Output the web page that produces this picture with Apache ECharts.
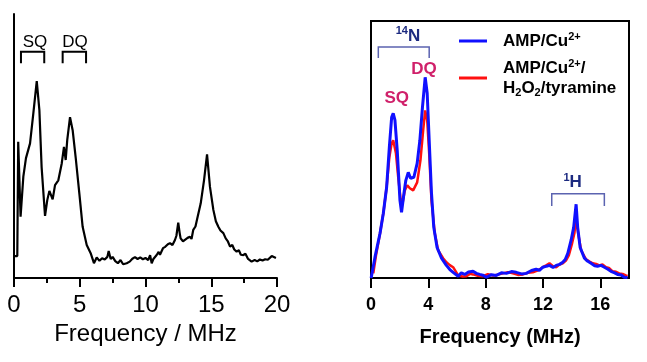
<!DOCTYPE html>
<html>
<head>
<meta charset="utf-8">
<script src="https://cdn.jsdelivr.net/npm/echarts@6/dist/echarts.min.js"></script>
<style>
html,body{margin:0;padding:0;background:#fff;}
#chart{width:647px;height:362px;}
</style>
</head>
<body>
<div id="chart"></div>
<script>
// ---------- Left panel: single spectrum ----------
const leftFreq = [0.06,0.25,0.32,0.38,0.5,0.71,0.91,1.22,1.47,1.73,1.93,2.1,2.36,2.53,2.69,2.94,3.12,3.37,3.63,3.8,3.93,4.05,4.26,4.46,4.71,4.97,5.22,5.53,5.83,6.08,6.29,
  6.5,6.7,6.9,7.1,7.2,7.35,7.5,7.7,7.9,8.1,8.3,8.57,8.8,9.0,9.2,9.4,9.6,9.8,10.0,10.2,10.35,10.47,10.6,10.85,11.0,11.1,11.33,11.5,11.7,11.86,12.05,12.24,12.35,12.49,12.6,12.67,12.85,13.0,13.2,13.38,13.5,13.63,13.8,13.94,14.2,14.45,14.68,14.9,15.16,15.35,15.54,15.7,15.92,16.1,16.25,16.43,16.6,16.75,16.93,17.1,17.25,17.44,17.6,17.8,18.07,18.3,18.5,18.7,18.9,19.1,19.3,19.45,19.6,19.75,19.92];
const leftSignal = [8.3,8.3,51.6,51.6,23.2,38.4,45.4,51,62.4,74.6,63.6,42,23.5,29.5,33,29.8,35.2,37,43.4,49.7,44.7,52.3,60.9,56,44.7,32,19.4,12.5,9.4,5.6,7.8,
  6.5,7.5,7.0,8.0,10.2,7.2,8.0,6.4,5.6,6.8,5.2,5.6,6.2,7.3,7.9,7.2,7.8,7.1,7.6,6.8,8.6,5.6,7.2,8.7,9.9,8.8,11.3,11.8,12.8,13.2,12.5,14.4,16,21,17,15,13.9,14.4,15.2,15.6,14.8,18.2,19.5,22.6,28.3,37,46.8,34.6,25.8,21.5,19.4,18,17,15,14,11.9,12.5,10.8,10,10.5,8.8,8.7,9.2,7.2,6.2,6.8,6.3,7.0,6.6,7.1,6.9,7.6,8.3,8.6,7.6];
const leftTicks = [0,5,10,15,20];

// ---------- Right panel: two spectra ----------
const blueName = 'AMP/Cu2+';
const redName = 'AMP/Cu2+/H2O2/tyramine';
const blueFreq = [0.01,0.28,0.63,0.86,1.09,1.28,1.44,1.55,1.67,1.83,2.02,2.13,2.3,2.43,2.6,2.76,2.99,3.22,3.41,3.59,3.78,3.92,4.06,4.22,4.38,4.61,4.92,5.26,5.5,5.73,6.08,6.3,6.54,6.8,7.12,7.35,7.58,7.8,8.05,8.4,8.74,9.1,9.44,9.8,10.13,10.5,10.83,11.2,11.52,11.75,11.99,12.25,12.45,12.7,12.92,13.15,13.38,13.55,13.73,13.96,14.14,14.31,14.42,14.59,14.89,15.1,15.35,15.6,15.81,16.05,16.28,16.5,16.74,17.0,17.2,17.45,17.67,17.9];
const blueSignal = [0,8.2,17.4,25.2,35.3,50.9,62.5,64.1,61.4,49.7,30.2,25.6,33,38,41.1,38.8,39.2,44.6,53.6,66.4,78.1,71.9,53.6,33,19.7,11.9,7.7,4.9,3.3,2.2,0.7,2.0,1.4,2.3,2.6,1.8,1.4,1.1,0.3,1.3,1.0,2.0,1.8,2.5,2.2,1.6,1.8,2.9,3.4,3.0,4.2,4.6,4.9,4.1,4.9,5.3,6.1,7.2,9.6,14.7,19.7,28.7,19.7,11.9,7.7,6.6,5.7,4.8,4.6,4.9,4.2,3.5,2.6,2.0,1.4,1.2,0.3,0.2];
const redFreq = [0.16,0.35,0.63,0.86,1.09,1.28,1.44,1.55,1.74,1.9,2.06,2.2,2.36,2.53,2.71,2.94,3.22,3.45,3.64,3.78,3.92,4.06,4.22,4.45,4.68,5.03,5.26,5.5,5.73,6.08,6.4,6.66,6.9,7.12,7.45,7.81,8.15,8.51,8.85,9.2,9.55,9.9,10.25,10.6,10.95,11.29,11.65,11.99,12.25,12.45,12.7,12.92,13.15,13.38,13.6,13.8,14.03,14.19,14.31,14.45,14.66,15.0,15.25,15.47,15.7,15.93,16.15,16.4,16.6,16.86,17.1,17.32,17.55,17.78,17.9];
const redSignal = [1.8,8.8,17.4,25.2,35.3,47,52.4,53.6,48.5,39.2,31,29.1,34.1,36.1,34.9,34.1,37.2,45.8,57.5,65.2,61.4,48.5,30.2,17.4,10.8,7.7,6.1,5.0,4.2,1.0,0.6,0.7,1.6,1.4,0.9,0.7,1.5,1.0,1.3,1.8,2.3,1.8,1.2,1.4,2.0,2.2,3.0,4.2,5.0,5.7,4.6,4.2,5.2,5.7,6.8,8.8,13.5,17.4,23.6,17.4,10.8,7.3,6.4,5.7,5.5,4.9,5.3,4.2,3.9,2.6,2.4,1.8,1.6,1.0,0.8];
const rightTicks = [0,4,8,12,16];

// ---------- Annotations (data coordinates) ----------
const leftLabels = [{text:'SQ', x:1.6, y:89.2}, {text:'DQ', x:4.64, y:89.2}];
const leftBrackets = [{x0:0.53, x1:2.3, top:85.7, bottom:81.3}, {x0:3.7, x1:5.48, top:85.7, bottom:81.3}];
const rightLabels = [
  {text:'{sup|14}{b|N}', x:2.58, y:94.2, color:'#1c2a80'},
  {text:'{b|DQ}', x:3.69, y:81.3, color:'#d0206a'},
  {text:'{b|SQ}', x:1.79, y:70.0, color:'#d0206a'},
  {text:'{sup|1}{b|H}', x:14.07, y:37.2, color:'#1c2a80'}
];
const rightBrackets = [{x0:0.51, x1:4.06, top:89.9, bottom:85.6}, {x0:12.61, x1:16.28, top:32.8, bottom:28.0}];

const FONT = '"Liberation Sans", Arial, sans-serif';
const zip = (a, b) => a.map((v, i) => [v, b[i]]);

const chart = echarts.init(document.getElementById('chart'), null, {renderer: 'canvas'});

const legendText = {};
legendText[blueName] = 'AMP/Cu{sup|2+}';
legendText[redName] = 'AMP/Cu{sup|2+}/\nH{sub|2}O{sub|2}/tyramine';

const option = {
  animation: false,
  backgroundColor: '#fff',
  grid: [
    {left: 14, top: 14, width: 263, height: 264, show: false},
    {left: 371, top: 21, width: 258, height: 257, show: true, borderColor: '#000', borderWidth: 2, backgroundColor: 'transparent'}
  ],
  xAxis: [
    {
      gridIndex: 0, type: 'value', min: 0, max: 20, interval: 5,
      axisLine: {show: true, lineStyle: {color: '#000', width: 2}},
      axisTick: {show: true, length: 9, lineStyle: {color: '#000', width: 2}},
      minorTick: {show: true, splitNumber: 2, length: 5, lineStyle: {color: '#000', width: 2}},
      axisLabel: {color: '#000', fontSize: 24, fontFamily: FONT, margin: 15, formatter: v => leftTicks.includes(v) ? String(v) : ''},
      splitLine: {show: false},
      name: 'Frequency / MHz', nameLocation: 'middle', nameGap: 42,
      nameTextStyle: {color: '#000', fontSize: 24, fontFamily: FONT}
    },
    {
      gridIndex: 1, type: 'value', min: 0, max: 18, interval: 4,
      axisLine: {show: true, lineStyle: {color: '#000', width: 2}},
      axisTick: {show: true, length: 10, customValues: rightTicks, lineStyle: {color: '#000', width: 2}},
      axisLabel: {color: '#000', fontSize: 18, fontWeight: 'bold', fontFamily: FONT, margin: 18, customValues: rightTicks,
        formatter: v => rightTicks.includes(v) ? String(v) : ''},
      splitLine: {show: false},
      name: 'Frequency (MHz)', nameLocation: 'middle', nameGap: 49,
      nameTextStyle: {color: '#000', fontSize: 20, fontWeight: 'bold', fontFamily: FONT}
    }
  ],
  yAxis: [
    {
      gridIndex: 0, type: 'value', min: 0, max: 100,
      axisLine: {show: true, lineStyle: {color: '#000', width: 2}},
      axisTick: {show: false}, axisLabel: {show: false}, splitLine: {show: false}
    },
    {
      gridIndex: 1, type: 'value', min: 0, max: 100,
      axisLine: {show: false}, axisTick: {show: false}, axisLabel: {show: false}, splitLine: {show: false}
    }
  ],
  legend: {
    data: [blueName, redName],
    orient: 'vertical', left: 459, top: 31, padding: 0, itemGap: 7,
    itemWidth: 28, itemHeight: 3, icon: 'rect',
    selectedMode: false,
    formatter: name => legendText[name],
    textStyle: {
      color: '#000', fontSize: 17, fontWeight: 'bold', fontFamily: FONT, lineHeight: 20, padding: [0, 0, 0, 11],
      rich: {
        sup: {fontSize: 11, fontWeight: 'bold', fontFamily: FONT, color: '#000', verticalAlign: 'top', lineHeight: 10},
        sub: {fontSize: 11, fontWeight: 'bold', fontFamily: FONT, color: '#000', verticalAlign: 'bottom', lineHeight: 10}
      }
    }
  },
  series: [
    {
      name: 'left', type: 'line', xAxisIndex: 0, yAxisIndex: 0,
      data: zip(leftFreq, leftSignal), showSymbol: false, symbol: 'none',
      lineStyle: {color: '#000', width: 2.2}, itemStyle: {color: '#000'}
    },
    {
      name: redName, type: 'line', xAxisIndex: 1, yAxisIndex: 1,
      data: zip(redFreq, redSignal), showSymbol: false, symbol: 'none',
      lineStyle: {color: '#ff1010', width: 2.5}, itemStyle: {color: '#ff1010'}
    },
    {
      name: blueName, type: 'line', xAxisIndex: 1, yAxisIndex: 1,
      data: zip(blueFreq, blueSignal), showSymbol: false, symbol: 'none',
      lineStyle: {color: '#1010ff', width: 3}, itemStyle: {color: '#1010ff'}
    }
  ]
};
chart.setOption(option);

// annotations placed through the axes' own scales
const graphics = [];
leftLabels.forEach(l => {
  const p = chart.convertToPixel({gridIndex: 0}, [l.x, l.y]);
  graphics.push({type: 'text', x: p[0], y: p[1], style: {text: l.text, fill: '#000', font: '17px ' + FONT, textAlign: 'center', textVerticalAlign: 'middle'}});
});
leftBrackets.forEach(b => {
  const a = chart.convertToPixel({gridIndex: 0}, [b.x0, b.bottom]);
  const t = chart.convertToPixel({gridIndex: 0}, [b.x1, b.top]);
  graphics.push({type: 'polyline', shape: {points: [[a[0], a[1]], [a[0], t[1]], [t[0], t[1]], [t[0], a[1]]]}, style: {stroke: '#000', lineWidth: 2, fill: null}});
});
rightLabels.forEach(l => {
  const p = chart.convertToPixel({gridIndex: 1}, [l.x, l.y]);
  graphics.push({type: 'text', x: p[0], y: p[1], style: {
    text: l.text, textAlign: 'center', textVerticalAlign: 'middle',
    rich: {
      b: {fontSize: 17, fontWeight: 'bold', fontFamily: FONT, fill: l.color, color: l.color, lineHeight: 20},
      sup: {fontSize: 11, fontWeight: 'bold', fontFamily: FONT, fill: l.color, color: l.color, verticalAlign: 'top', lineHeight: 10}
    }
  }});
});
rightBrackets.forEach(b => {
  const a = chart.convertToPixel({gridIndex: 1}, [b.x0, b.bottom]);
  const t = chart.convertToPixel({gridIndex: 1}, [b.x1, b.top]);
  graphics.push({type: 'polyline', shape: {points: [[a[0], a[1]], [a[0], t[1]], [t[0], t[1]], [t[0], a[1]]]}, style: {stroke: '#5b63b0', lineWidth: 1.5, fill: null}});
});
chart.setOption({graphic: graphics});
</script>
</body>
</html>
